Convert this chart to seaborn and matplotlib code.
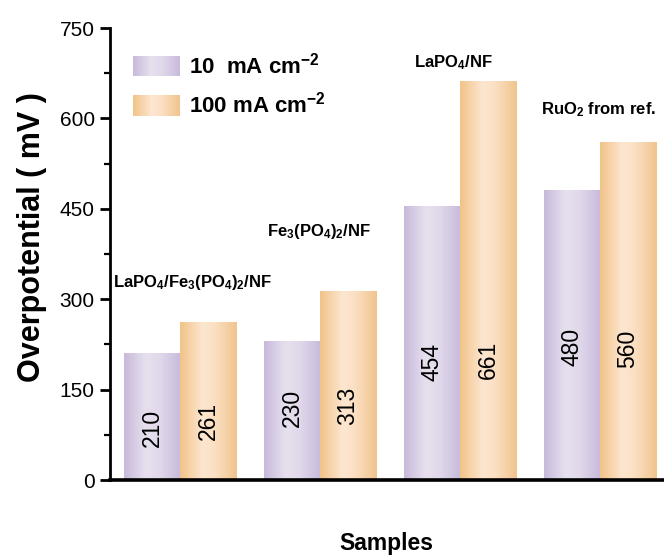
import numpy as np
import pandas as pd
import matplotlib
matplotlib.use("Agg")
import matplotlib.pyplot as plt
from matplotlib.colors import LinearSegmentedColormap
from matplotlib.patches import Rectangle
from matplotlib.legend_handler import HandlerBase
from matplotlib.ticker import MultipleLocator
import seaborn as sns

# ---- data -------------------------------------------------------------
samples = ["LaPO4/Fe3(PO4)2/NF", "Fe3(PO4)2/NF", "LaPO4/NF", "RuO2 from ref."]
sample_labels = [r"LaPO$_4$/Fe$_3$(PO$_4$)$_2$/NF", r"Fe$_3$(PO$_4$)$_2$/NF",
                 r"LaPO$_4$/NF", r"RuO$_2$ from ref."]
current_densities = ["10 mA cm-2", "100 mA cm-2"]
legend_labels = [r"10  mA cm$^{-2}$", r"100 mA cm$^{-2}$"]
eta_10 = [210, 230, 454, 480]
eta_100 = [261, 313, 661, 560]
y_ticks = [0, 150, 300, 450, 600, 750]

# ---- style ------------------------------------------------------------
sns.set_style("ticks")
plt.rcParams.update({
    "font.family": ["Liberation Sans", "DejaVu Sans"],
    "mathtext.fontset": "custom",
    "mathtext.rm": "Liberation Sans:bold",
    "mathtext.it": "Liberation Sans:bold",
    "mathtext.bf": "Liberation Sans:bold",
    "mathtext.default": "rm",
    "text.color": "black",
    "axes.labelcolor": "black",
    "axes.edgecolor": "black",
    "xtick.color": "black",
    "ytick.color": "black",
})

purple_cmap = LinearSegmentedColormap.from_list(
    "purple_tube", [(0.0, "#c7b9da"), (0.38, "#e6e0ee"), (0.62, "#e1d9eb"), (1.0, "#c8badb")])
orange_cmap = LinearSegmentedColormap.from_list(
    "orange_tube", [(0.0, "#f1c388"), (0.40, "#fde6d0"), (0.62, "#fbdfc3"), (1.0, "#f0c48c")])
cmaps = [purple_cmap, orange_cmap]


class GradientHandler(HandlerBase):
    """Legend key filled with a horizontal colour gradient."""

    def __init__(self, cmap, n=48):
        super().__init__()
        self.cmap = cmap
        self.n = n

    def create_artists(self, legend, orig_handle, xdescent, ydescent,
                       width, height, fontsize, trans):
        step = width / self.n
        arts = []
        for i in range(self.n):
            arts.append(Rectangle((-xdescent + i * step, -ydescent),
                                  step * 1.02 if i < self.n - 1 else step, height,
                                  facecolor=self.cmap((i + 0.5) / self.n),
                                  edgecolor="none", transform=trans))
        return arts


# ---- figure -----------------------------------------------------------
fig = plt.figure(figsize=(6.64, 5.59), dpi=100)
ax = fig.add_axes([110 / 664, 79 / 559, 554 / 664, 452 / 559])

df = pd.DataFrame({
    "sample": samples * 2,
    "current": [c for c in current_densities for _ in samples],
    "eta": eta_10 + eta_100,
})

sns.barplot(data=df, x="sample", y="eta", hue="current", order=samples,
            hue_order=current_densities, palette=["#dcd3e9", "#f9dcbb"],
            width=0.8, errorbar=None, legend=False, ax=ax, edgecolor="none")

# cylindrical shading on every bar
grad = np.linspace(0, 1, 256).reshape(1, -1)
for container, cmap in zip(ax.containers, cmaps):
    for bar in container:
        x0, w, h = bar.get_x(), bar.get_width(), bar.get_height()
        ax.imshow(grad, extent=(x0, x0 + w, 0, h), origin="lower", cmap=cmap,
                  aspect="auto", interpolation="bicubic", zorder=2)
        bar.set_facecolor("none")

# values written inside the bars
value_label_y = [[86, 119, 196, 221], [98, 123, 199, 217]]
for container, values, ys in zip(ax.containers, [eta_10, eta_100], value_label_y):
    for bar, v, y in zip(container, values, ys):
        ax.text(bar.get_x() + bar.get_width() / 2, y, str(v), rotation=90,
                ha="center", va="center", fontsize=16.5, color="black", zorder=4)

# sample names above each group
name_pos = [(0.086, 327), (0.99, 413), (1.95, 692), (2.99, 614)]
for label, (x, y) in zip(sample_labels, name_pos):
    ax.text(x, y, label, ha="center", va="center", fontsize=12,
            fontweight="bold", zorder=4)

ax.set_xlim(-0.5, 3.457)
ax.set_ylim(0, 750)
ax.set_yticks(y_ticks)
ax.yaxis.set_minor_locator(MultipleLocator(75))
ax.tick_params(axis="y", which="major", length=7, width=2, labelsize=15, pad=4)
ax.tick_params(axis="y", which="minor", length=4, width=1.6)
ax.tick_params(axis="x", which="both", length=0, labelbottom=False)

for side in ["top", "right"]:
    ax.spines[side].set_visible(False)
ax.spines["left"].set_linewidth(2)
ax.spines["bottom"].set_linewidth(2.6)

ax.set_ylabel("Overpotential ( mV )", fontsize=22, fontweight="bold")
ax.yaxis.set_label_coords(-0.114, 0.537)
ax.set_xlabel("Samples", fontsize=16.5, fontweight="bold")
ax.xaxis.set_label_coords(0.498, -0.115)

proxies = [Rectangle((0, 0), 1, 1), Rectangle((0, 0), 1, 1)]
ax.legend(proxies, legend_labels,
          handler_map={proxies[0]: GradientHandler(purple_cmap),
                       proxies[1]: GradientHandler(orange_cmap)},
          loc="upper left", bbox_to_anchor=(0.0415, 0.945), borderaxespad=0,
          borderpad=0, frameon=False, handlelength=2.1, handleheight=1.05,
          handletextpad=0.4, labelspacing=0.6,
          prop={"size": 16, "weight": "bold"})

fig.savefig("out.png", dpi=100)
